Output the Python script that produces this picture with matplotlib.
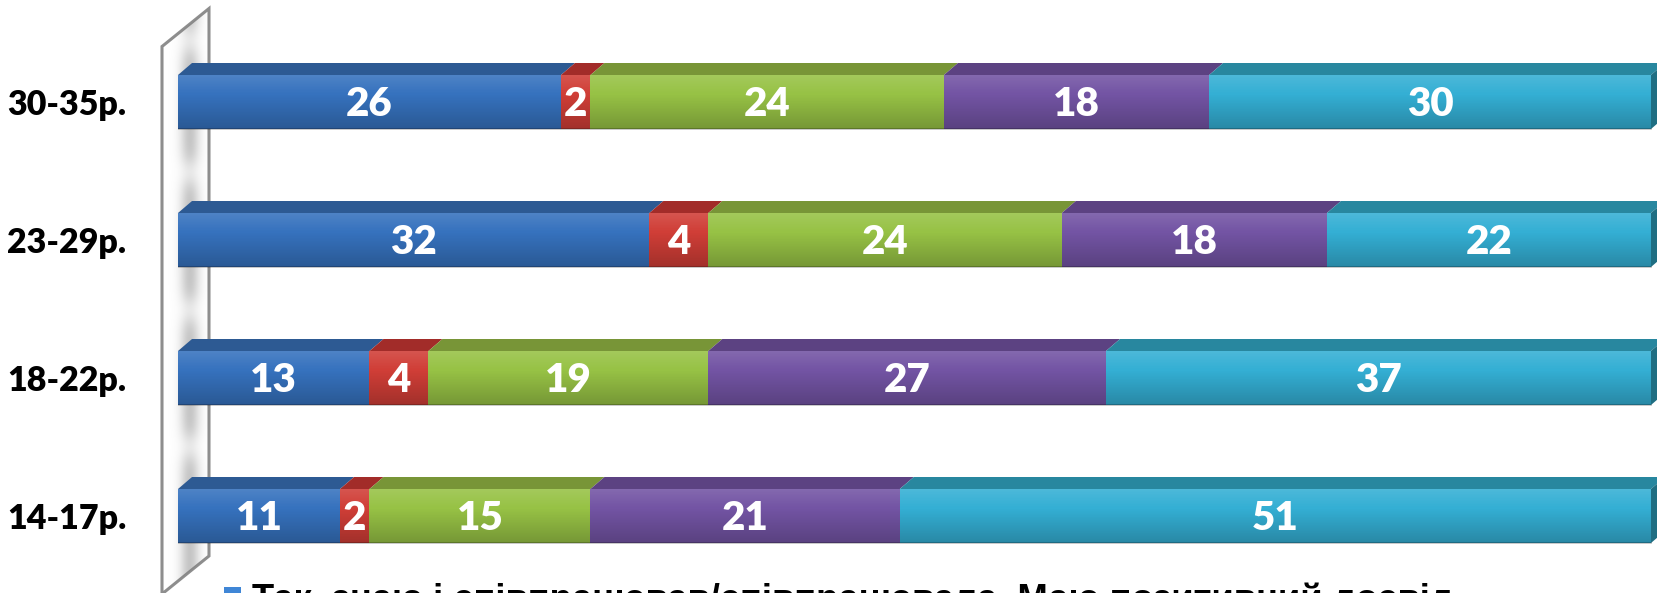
import numpy as np
import matplotlib
matplotlib.use('Agg')
import matplotlib.pyplot as plt
from matplotlib.patches import Polygon, Patch

# ---------------- data ----------------
categories = ['14-17р.', '18-22р.', '23-29р.', '30-35р.']
s1 = [11, 13, 32, 26]
s2 = [2, 4, 4, 2]
s3 = [15, 19, 24, 24]
s4 = [21, 27, 18, 18]
s5 = [51, 37, 22, 30]
series = [s1, s2, s3, s4, s5]
legend_label = 'Так, знаю і співпрацював/співпрацювала. Маю позитивний досвід'

front_colors = ['#3672BE', '#D03E37', '#97C245', '#7354A4', '#34AFD4']
top_colors = ['#2D5A93', '#A22C29', '#789537', '#5C4282', '#28879F']
side_colors = ['#234a7a', '#7f2220', '#5d742a', '#463264', '#1F6E82']

W, H = 1658, 593
fig = plt.figure(figsize=(W / 100, H / 100), dpi=100)

# ---- wall (pixel coordinates) ----
bg = fig.add_axes([0, 0, 1, 1], zorder=0)
bg.axis('off')
wall = [(162, 46.5), (209, 8.5), (209, 556), (162, 594)]
wpoly = Polygon(wall, closed=True, facecolor='white', edgecolor='#8e8e8e', lw=2.2, zorder=2)
bg.add_patch(wpoly)
xs = np.linspace(160, 212, 80)
ys = np.linspace(0, H, 600)
gx = np.exp(-((xs - 190) / 10.0) ** 2)
gap_mid = np.array([40, 172, 310, 447])
gy = np.ones_like(ys)
for gm in gap_mid:
    gy -= 0.6 * np.exp(-((ys - gm) / 16.0) ** 2)
gy = np.clip(gy, 0, 1)
img = np.zeros((len(ys), len(xs), 4))
img[..., :3] = 0.5
img[..., 3] = 0.45 * gx[None, :] * gy[:, None]
im = bg.imshow(img, extent=[160, 212, H, 0], aspect='auto', zorder=3, interpolation='bilinear')
im.set_clip_path(wpoly)
bg.set_xlim(0, W)
bg.set_ylim(H, 0)

# ---- main axes ----
px0, px100 = 178, 1651
ppu = (px100 - px0) / 100.0
ycen0, yspace = 516, 138
ax = fig.add_axes([px0 / W, 0, (W - px0) / W, 1], zorder=1)
ax.patch.set_alpha(0)

bh = 54 / yspace
dx = 14 / ppu
dy = 12 / yspace
ypos = np.arange(len(categories))
lblfont = ['Lato', 'Open Sans', 'DejaVu Sans']

left = np.zeros(len(categories))
for k, vals in enumerate(series):
    vals = np.array(vals, dtype=float)
    ax.barh(ypos, vals, left=left, height=bh, color=front_colors[k], edgecolor='none', zorder=3)
    for i, (y, l, v) in enumerate(zip(ypos, left, vals)):
        yt = y + bh / 2
        top = Polygon([(l, yt), (l + v, yt), (l + v + dx, yt + dy), (l + dx, yt + dy)],
                      closed=True, facecolor=top_colors[k], edgecolor='none', zorder=2)
        ax.add_patch(top)
        ax.text(l + v / 2, y - 0.015, f'{int(v)}', ha='center', va='center', color='white',
                fontsize=29, fontweight='heavy', family=lblfont, zorder=6)
    left = left + vals

t = np.linspace(0, 1, 50)[:, None]
for i, y in enumerate(ypos):
    yb, yt = y - bh / 2, y + bh / 2
    tot = left[i]
    side = Polygon([(tot, yb), (tot, yt), (tot + dx, yt + dy), (tot + dx, yb + dy)],
                   closed=True, facecolor=side_colors[-1], edgecolor='none', zorder=2)
    ax.add_patch(side)
    g = np.zeros((50, 2, 4))
    up = np.clip(1 - t / 0.35, 0, 1)
    down = np.clip((t - 0.35) / 0.65, 0, 1)
    g[..., :3] = np.where(t < 0.35, 1.0, 0.0)[:, :, None] * np.ones((50, 2, 3))
    g[..., 3] = (0.12 * up + 0.22 * down)[:, 0][:, None]
    ax.imshow(g, extent=[0, tot, yb, yt], aspect='auto', zorder=4, interpolation='bilinear')
    ax.plot([0, tot], [yb, yb], color='#000000', alpha=0.25, lw=1.2, zorder=4)

ax.set_xlim(0, (W - px0) / ppu)
ax.set_ylim(-(H - ycen0) / yspace, ycen0 / yspace)
ax.set_yticks(ypos)
ax.set_yticklabels(categories, fontsize=24.5, fontweight='heavy', family=lblfont)
ax.tick_params(axis='y', length=0, pad=37)
ax.set_xticks([])
for sp in ax.spines.values():
    sp.set_visible(False)

fig.legend(handles=[Patch(facecolor='#3F86D6', edgecolor='none')], labels=[legend_label],
           loc='upper left', bbox_to_anchor=(224 / W, 1 - 582 / H), bbox_transform=fig.transFigure,
           frameon=False, handlelength=0.47, handleheight=0.47, handletextpad=0.3,
           borderpad=0, borderaxespad=0,
           prop={'family': 'Liberation Sans', 'weight': 'bold', 'size': 26.2})

fig.savefig('out.png', dpi=100)
